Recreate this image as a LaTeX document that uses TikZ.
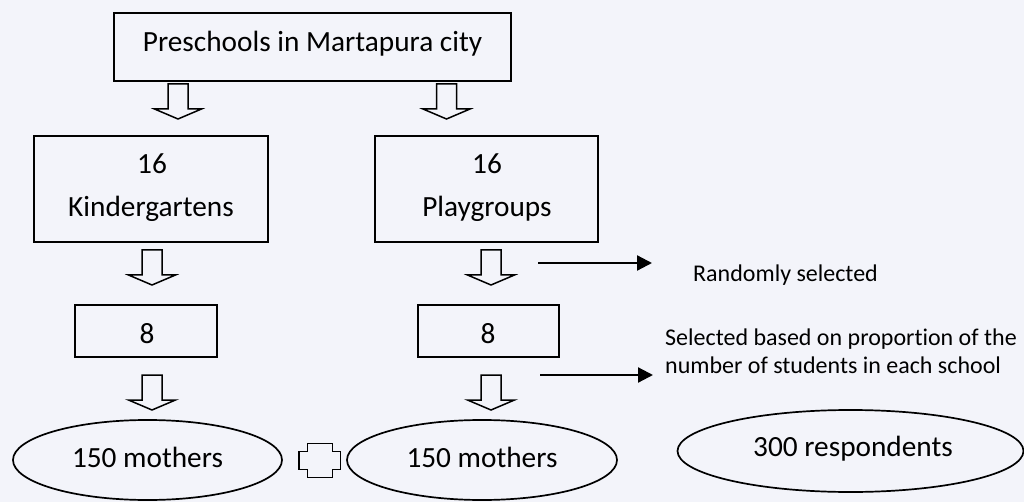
\documentclass[tikz,border=0pt]{standalone}
\usepackage{fontspec}
\setmainfont{Carlito}[Ligatures=NoCommon]
\usetikzlibrary{shapes.geometric,arrows.meta}
\definecolor{pagebg}{RGB}{243,244,250}
\begin{document}
\begin{tikzpicture}[x=1pt,y=-1pt,
  box/.style={draw, line width=1.7pt, inner sep=0pt},
  oval/.style={draw, ellipse, line width=1.7pt, inner sep=0pt},
  lbl/.style={anchor=base, inner sep=0pt, font=\fontsize{29.3}{35}\selectfont},
  note/.style={anchor=base west, inner sep=0pt, font=\fontsize{24}{29}\selectfont},
  pointer/.style={line width=2.2pt, -{Triangle[length=15pt,width=15pt]}},
  blockline/.style={draw, line width=1.5pt},
  downarrow/.pic={\draw[blockline] (-10,0) -- (10,0) -- (10,25) -- (23.5,25)
      -- (0,35) -- (-23.5,25) -- (-10,25) -- cycle;}
]
% page
\fill[pagebg] (0,0) rectangle (1024,502);
\useasboundingbox (0,0) rectangle (1024,502);

% top level
\node[box, minimum width=397pt, minimum height=68pt] (top) at (312.5,47) {};
\node[lbl] (top-t) at (312.5,52) {Preschools in Martapura city};

% second level
\node[box, minimum width=234pt, minimum height=106pt] (kg) at (151,189) {};
\node[lbl] (kg-n) at (152,174) {16};
\node[lbl] (kg-t) at (151,217) {Kindergartens};
\node[box, minimum width=223pt, minimum height=106pt] (pg) at (486.5,189) {};
\node[lbl] (pg-n) at (487,174) {16};
\node[lbl] (pg-t) at (487,217) {Playgroups};

% sampled schools
\node[box, minimum width=142pt, minimum height=52pt] (kg8) at (146,331) {};
\node[lbl] (kg8-t) at (147,343) {8};
\node[box, minimum width=141pt, minimum height=52pt] (pg8) at (488.5,331) {};
\node[lbl] (pg8-t) at (488,343) {8};

% respondents
\node[oval, minimum width=269pt, minimum height=80pt] (kgm) at (147.5,460) {};
\node[lbl] (kgm-t) at (147.5,467) {150 mothers};
\node[oval, minimum width=270pt, minimum height=80pt] (pgm) at (482,460) {};
\node[lbl] (pgm-t) at (482,467) {150 mothers};
\node[oval, minimum width=346pt, minimum height=82pt] (all) at (850.5,451) {};
\node[lbl] (all-t) at (853,456) {300 respondents};

% block arrows between levels
\pic at (178,84) {downarrow};
\pic at (446.5,84) {downarrow};
\pic at (152,250) {downarrow};
\pic at (491,250) {downarrow};
\pic at (152,375) {downarrow};
\pic at (491,375) {downarrow};

% plus sign between the two groups
\draw[blockline] (307.3,443.3) -- (332.3,443.3) -- (332.3,451.7) -- (340.7,451.7)
  -- (340.7,469.3) -- (332.3,469.3) -- (332.3,477.3) -- (307.3,477.3)
  -- (307.3,469.3) -- (299,469.3) -- (299,451.7) -- (307.3,451.7) -- cycle;

% sampling method notes
\coordinate (r1s) at (538,263);
\coordinate (r1e) at (652,263);
\coordinate (r2s) at (540,375);
\coordinate (r2e) at (653,375);
\draw[pointer] (r1s) -- (r1e);
\draw[pointer] (r2s) -- (r2e);
\node[note] (n1) at (693,282) {Randomly selected};
\node[note] (n2) at (665,345) {Selected based on proportion of the};
\node[note] (n3) at (665,373) {number of students in each school};
\end{tikzpicture}
\end{document}
